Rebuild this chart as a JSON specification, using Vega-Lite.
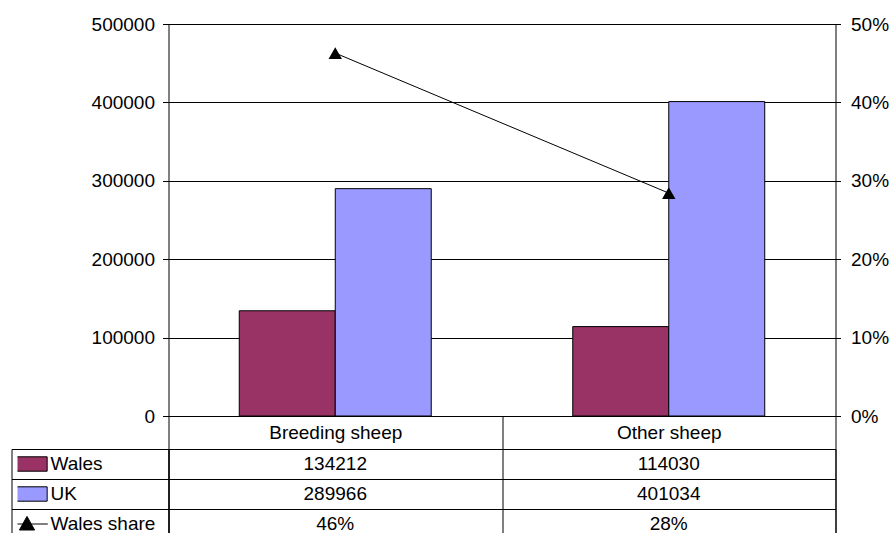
{
  "$schema": "https://vega.github.io/schema/vega-lite/v6.json",
  "background": "white",
  "padding": {"left": 10.5, "top": 15, "right": 5, "bottom": 0},
  "config": {
    "font": "Liberation Sans",
    "view": {"stroke": null},
    "axis": {
      "labelFont": "Liberation Sans",
      "labelFontSize": 19,
      "labelColor": "#000",
      "domainColor": "#000",
      "tickColor": "#000",
      "gridColor": "#000",
      "gridOpacity": 1,
      "domainWidth": 1,
      "tickWidth": 1,
      "gridWidth": 1
    },
    "legend": {
      "title": null, "orient": "none", "legendX": 6, "legendY": 0, "padding": 0,
      "clipHeight": 30, "rowPadding": 0, "symbolSize": 256,
      "symbolStrokeWidth": 1, "symbolOpacity": 1,
      "labelFont": "Liberation Sans", "labelFontSize": 19, "labelColor": "#000",
      "labelOffset": 14, "labelLimit": 200
    }
  },
  "datasets": {
    "bars": [
      {"category": "Breeding sheep", "series": "Wales", "value": 134212},
      {"category": "Breeding sheep", "series": "UK", "value": 289966},
      {"category": "Other sheep", "series": "Wales", "value": 114030},
      {"category": "Other sheep", "series": "UK", "value": 401034}
    ],
    "share": [
      {"category": "Breeding sheep", "share": 0.4629},
      {"category": "Other sheep", "share": 0.2843}
    ],
    "table": [
      {"row": "Wales", "category": "Breeding sheep", "text": "134212"},
      {"row": "Wales", "category": "Other sheep", "text": "114030"},
      {"row": "UK", "category": "Breeding sheep", "text": "289966"},
      {"row": "UK", "category": "Other sheep", "text": "401034"},
      {"row": "Wales share", "category": "Breeding sheep", "text": "46%"},
      {"row": "Wales share", "category": "Other sheep", "text": "28%"}
    ],
    "rows": [
      {"row": "Wales"},
      {"row": "UK"},
      {"row": "Wales share"}
    ]
  },
  "columns": 2,
  "bounds": "flush",
  "spacing": {"row": 33, "column": 0},
  "resolve": {
    "scale": {"color": "independent", "shape": "independent", "stroke": "independent"},
    "legend": {"color": "independent", "shape": "independent", "stroke": "independent"}
  },
  "concat": [
    {
      "width": 157,
      "height": 392,
      "data": {"values": []},
      "mark": {"type": "point", "opacity": 0},
      "encoding": {}
    },
    {
      "width": 667,
      "height": 392,
      "layer": [
        {
          "data": {"name": "bars"},
          "mark": {"type": "bar", "stroke": "#000", "strokeWidth": 1},
          "encoding": {
            "x": {
              "field": "category", "type": "nominal",
              "sort": ["Breeding sheep", "Other sheep"],
              "scale": {"paddingInner": 0, "paddingOuter": 0},
              "axis": {
                "title": null, "orient": "bottom", "tickBand": "extent", "tickSize": 33,
                "labelPadding": -16.5, "labelBaseline": "middle", "labelAngle": 0, "grid": false
              }
            },
            "xOffset": {
              "field": "series", "type": "nominal", "sort": ["Wales", "UK"],
              "scale": {"paddingInner": 0, "paddingOuter": 0.737}
            },
            "y": {
              "field": "value", "type": "quantitative",
              "scale": {"domain": [0, 500000], "nice": false},
              "axis": {
                "title": null, "values": [0, 100000, 200000, 300000, 400000, 500000],
                "format": "d", "grid": true, "tickSize": 6, "labelPadding": 8
              }
            },
            "color": {
              "field": "series", "type": "nominal",
              "scale": {"domain": ["Wales", "UK"], "range": ["#993366", "#9999FF"]},
              "legend": null
            }
          }
        },
        {
          "data": {"name": "share"},
          "layer": [
            {
              "mark": {"type": "line", "color": "#000", "strokeWidth": 1},
              "encoding": {
                "x": {"field": "category", "type": "nominal", "sort": ["Breeding sheep", "Other sheep"]},
                "y": {
                  "field": "share", "type": "quantitative",
                  "scale": {"domain": [0, 0.5], "nice": false},
                  "axis": {
                    "title": null, "orient": "right", "values": [0, 0.1, 0.2, 0.3, 0.4, 0.5],
                    "format": ".0%", "grid": false, "tickSize": 5, "labelPadding": 10
                  }
                }
              }
            },
            {
              "mark": {"type": "point", "shape": "triangle-up", "size": 180, "filled": true, "color": "#000", "opacity": 1},
              "encoding": {
                "x": {"field": "category", "type": "nominal", "sort": ["Breeding sheep", "Other sheep"]},
                "y": {"field": "share", "type": "quantitative"}
              }
            }
          ]
        }
      ],
      "resolve": {"scale": {"y": "independent"}}
    },
    {
      "width": 157,
      "height": 90,
      "data": {"name": "rows"},
      "view": {"stroke": "#000", "strokeWidth": 1},
      "mark": {"type": "point", "filled": true, "opacity": 0, "strokeWidth": 1},
      "encoding": {
        "y": {
          "field": "row", "type": "nominal", "sort": ["Wales", "UK", "Wales share"],
          "scale": {"paddingInner": 0, "paddingOuter": 0},
          "axis": {"title": null, "labels": false, "ticks": false, "domain": false, "grid": true, "tickBand": "extent"}
        },
        "color": {
          "field": "row", "type": "nominal",
          "scale": {"domain": ["Wales", "UK", "Wales share"], "range": ["#993366", "#9999FF", "#000000"]}
        },
        "stroke": {
          "field": "row", "type": "nominal",
          "scale": {"domain": ["Wales", "UK", "Wales share"], "range": ["#000000", "#000000", "#000000"]}
        },
        "shape": {
          "field": "row", "type": "nominal",
          "scale": {
            "domain": ["Wales", "UK", "Wales share"],
            "range": ["M-2.52,-0.9H2.52V0.9H-2.52Z", "M-2.52,-0.9H2.52V0.9H-2.52Z", "M-2.6,0H2.6M0,-0.95L0.95,0.75H-0.95Z"]
          }
        }
      }
    },
    {
      "width": 667,
      "height": 90,
      "data": {"name": "table"},
      "view": {"stroke": "#000", "strokeWidth": 1},
      "mark": {"type": "text", "fontSize": 19, "font": "Liberation Sans", "color": "#000"},
      "encoding": {
        "x": {
          "field": "category", "type": "nominal", "sort": ["Breeding sheep", "Other sheep"],
          "scale": {"paddingInner": 0, "paddingOuter": 0},
          "axis": {"title": null, "labels": false, "ticks": false, "domain": false, "grid": true, "tickBand": "extent"}
        },
        "y": {
          "field": "row", "type": "nominal", "sort": ["Wales", "UK", "Wales share"],
          "scale": {"paddingInner": 0, "paddingOuter": 0},
          "axis": {"title": null, "labels": false, "ticks": false, "domain": false, "grid": true, "tickBand": "extent"}
        },
        "text": {"field": "text"}
      }
    }
  ]
}
